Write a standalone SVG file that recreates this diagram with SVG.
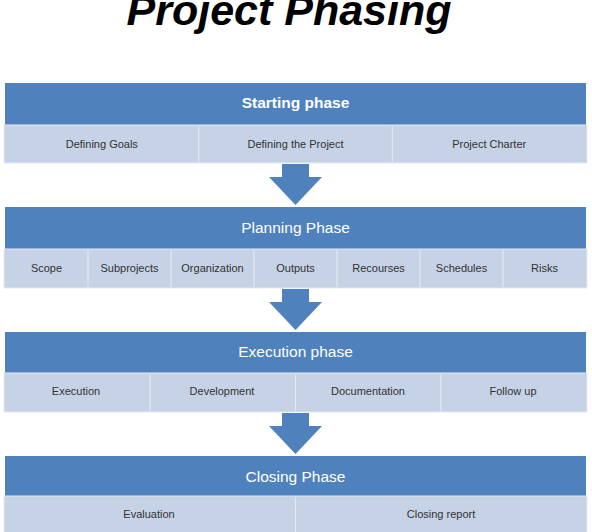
<svg xmlns="http://www.w3.org/2000/svg" width="592" height="532" viewBox="0 0 592 532">
<style>
.hd{fill:#4F81BD}
.sub{fill:#C6D2E5;stroke:#E4EAF3;stroke-width:1}
.div{stroke:#E2E8F2;stroke-width:1.2}
.ht{font-family:"Liberation Sans",Arial,sans-serif;font-size:15.5px;fill:#FFFFFF;text-anchor:middle}
.st{font-family:"Liberation Sans",Arial,sans-serif;font-size:11px;fill:#333333;text-anchor:middle}
.arr{fill:#4F81BD}
</style>
<rect width="592" height="532" fill="#FFFFFF"/>
<text x="289" y="25" font-family="Liberation Sans,Arial,sans-serif" font-size="43" font-weight="bold" font-style="italic" text-anchor="middle" fill="#000000">Project Phasing</text>

<g id="starting">
<rect class="hd" x="5" y="83" width="581" height="42"/>
<text class="ht" x="295.5" y="108" font-weight="bold" font-size="14.5">Starting phase</text>
<rect class="sub" x="4" y="125" width="583" height="38"/>
<line class="div" x1="198.7" y1="126" x2="198.7" y2="162"/>
<line class="div" x1="392.3" y1="126" x2="392.3" y2="162"/>
<text class="st" x="101.8" y="148">Defining Goals</text>
<text class="st" x="295.5" y="148">Defining the Project</text>
<text class="st" x="489.2" y="148">Project Charter</text>
</g>

<g id="planning">
<rect class="hd" x="5" y="207" width="581" height="42"/>
<text class="ht" x="295.5" y="233">Planning Phase</text>
<rect class="sub" x="4" y="249" width="583" height="39"/>
<line class="div" x1="88" y1="250" x2="88" y2="287"/>
<line class="div" x1="171" y1="250" x2="171" y2="287"/>
<line class="div" x1="254" y1="250" x2="254" y2="287"/>
<line class="div" x1="337" y1="250" x2="337" y2="287"/>
<line class="div" x1="420" y1="250" x2="420" y2="287"/>
<line class="div" x1="503" y1="250" x2="503" y2="287"/>
<text class="st" x="46.5" y="272">Scope</text>
<text class="st" x="129.5" y="272">Subprojects</text>
<text class="st" x="212.5" y="272">Organization</text>
<text class="st" x="295.5" y="272">Outputs</text>
<text class="st" x="378.5" y="272">Recourses</text>
<text class="st" x="461.5" y="272">Schedules</text>
<text class="st" x="544.5" y="272">Risks</text>
</g>

<g id="execution">
<rect class="hd" x="5" y="332" width="581" height="41"/>
<text class="ht" x="295.5" y="357">Execution phase</text>
<rect class="sub" x="4" y="373" width="583" height="39"/>
<line class="div" x1="150.2" y1="374" x2="150.2" y2="411"/>
<line class="div" x1="295.5" y1="374" x2="295.5" y2="411"/>
<line class="div" x1="440.8" y1="374" x2="440.8" y2="411"/>
<text class="st" x="76" y="395">Execution</text>
<text class="st" x="222" y="395">Development</text>
<text class="st" x="368" y="395">Documentation</text>
<text class="st" x="513" y="395">Follow up</text>
</g>

<g id="closing">
<rect class="hd" x="5" y="456" width="581" height="40"/>
<text class="ht" x="295.5" y="482">Closing Phase</text>
<rect class="sub" x="4" y="496" width="583" height="40"/>
<line class="div" x1="295.5" y1="497" x2="295.5" y2="532"/>
<text class="st" x="149" y="518">Evaluation</text>
<text class="st" x="441" y="518">Closing report</text>
</g>

<g id="connectors">
<polygon class="arr" points="282,164 309,164 309,177 322,177 295.5,205 269,177 282,177"/>
<polygon class="arr" points="282,289 309,289 309,302 322,302 295.5,330 269,302 282,302"/>
<polygon class="arr" points="282,413 309,413 309,426 322,426 295.5,454 269,426 282,426"/>
</g>
</svg>
